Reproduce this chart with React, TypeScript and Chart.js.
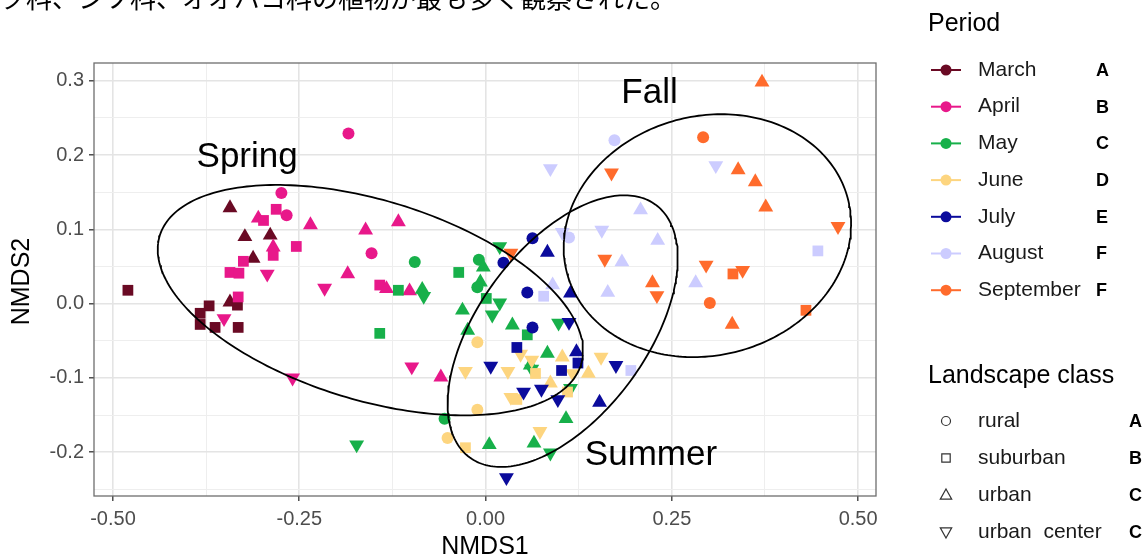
import React, { useEffect, useRef } from 'react';
import { Chart, registerables } from 'chart.js';

Chart.register(...registerables);

type Shape = 'o' | 's' | '^' | 'v';
type Pt = [number, number, Shape];

// ---------- data ----------
const months = ['March', 'April', 'May', 'June', 'July', 'August', 'September'];
const monthLetters = ['A', 'B', 'C', 'D', 'E', 'F', 'F'];
const monthColors = ['#6A0A24', '#E8188A', '#17B04A', '#FDD57F', '#0B0B9C', '#CCCCFF', '#FF6B2C'];

const marchPts: Pt[] = [
  [-0.480, 0.018, 's'], [-0.343, 0.129, '^'], [-0.323, 0.090, '^'], [-0.289, 0.092, '^'],
  [-0.312, 0.061, '^'], [-0.343, 0.002, '^'], [-0.333, -0.002, 's'], [-0.371, -0.003, 's'],
  [-0.383, -0.013, 's'], [-0.383, -0.028, 's'], [-0.363, -0.032, 's'], [-0.332, -0.032, 's'],
];
const aprilPts: Pt[] = [
  [-0.184, 0.229, 'o'], [-0.274, 0.149, 'o'], [-0.281, 0.127, 's'], [-0.267, 0.119, 'o'],
  [-0.305, 0.115, '^'], [-0.298, 0.112, 's'], [-0.235, 0.106, '^'], [-0.161, 0.099, '^'],
  [-0.117, 0.110, '^'], [-0.254, 0.077, 's'], [-0.285, 0.076, '^'], [-0.285, 0.065, 's'],
  [-0.153, 0.068, 'o'], [-0.325, 0.057, 's'], [-0.343, 0.042, 's'], [-0.331, 0.041, 's'],
  [-0.293, 0.040, 'v'], [-0.185, 0.040, '^'], [-0.216, 0.021, 'v'], [-0.142, 0.025, 's'],
  [-0.133, 0.020, '^'], [-0.102, 0.017, '^'], [-0.332, 0.009, 's'], [-0.351, -0.020, 'v'],
  [-0.259, -0.100, 'v'], [-0.099, -0.085, 'v'], [-0.060, -0.099, '^'],
];
const mayPts: Pt[] = [
  [0.019, 0.077, 'v'], [-0.095, 0.056, 'o'], [-0.009, 0.059, 'o'], [-0.003, 0.049, '^'],
  [-0.036, 0.042, 's'], [-0.007, 0.029, '^'], [-0.011, 0.022, 'o'], [-0.117, 0.018, 's'],
  [-0.085, 0.019, '^'], [-0.083, 0.010, 'v'], [0.001, 0.007, 's'], [0.019, 0.001, 'v'],
  [-0.031, -0.009, '^'], [0.009, -0.015, 'v'], [0.036, -0.029, '^'], [0.098, -0.026, 'v'],
  [-0.142, -0.040, 's'], [-0.024, -0.036, '^'], [0.056, -0.042, 's'], [0.083, -0.067, '^'],
  [0.060, -0.083, '^'], [0.062, -0.088, 'v'], [0.114, -0.114, 'v'], [-0.055, -0.155, 'o'],
  [0.108, -0.155, '^'], [0.005, -0.190, '^'], [0.065, -0.188, '^'], [0.087, -0.201, 'v'],
  [-0.173, -0.190, 'v'],
];
const junePts: Pt[] = [
  [-0.011, -0.052, 'o'], [-0.027, -0.091, 'v'], [0.030, -0.091, 'v'], [0.047, -0.068, 'v'],
  [0.062, -0.076, 'v'], [0.067, -0.094, 's'], [0.103, -0.072, '^'], [0.117, -0.094, 'v'],
  [0.138, -0.094, '^'], [0.155, -0.072, 'v'], [0.087, -0.107, '^'], [0.110, -0.119, 's'],
  [0.034, -0.126, 'v'], [0.042, -0.129, 's'], [-0.011, -0.143, 'o'], [-0.051, -0.181, 'o'],
  [-0.027, -0.194, 's'], [0.073, -0.172, 'v'],
];
const julyPts: Pt[] = [
  [0.063, 0.088, 'o'], [0.083, 0.069, '^'], [0.024, 0.055, 'o'], [0.056, 0.015, 'o'],
  [0.114, 0.014, '^'], [0.063, -0.032, 'o'], [0.112, -0.025, 'v'], [0.042, -0.059, 's'],
  [0.122, -0.065, '^'], [0.124, -0.080, 's'], [0.007, -0.084, 'v'], [0.102, -0.090, 's'],
  [0.051, -0.119, 'v'], [0.075, -0.115, 'v'], [0.097, -0.129, 'v'], [0.153, -0.133, '^'],
  [0.175, -0.083, 'v'], [0.028, -0.234, 'v'],
];
const augustPts: Pt[] = [
  [0.173, 0.220, 'o'], [0.087, 0.182, 'v'], [0.309, 0.186, 'v'], [0.208, 0.126, '^'],
  [0.156, 0.099, 'v'], [0.231, 0.085, '^'], [0.103, 0.096, 'v'], [0.112, 0.089, 'o'],
  [0.183, 0.056, '^'], [0.446, 0.071, 's'], [0.090, 0.025, '^'], [0.078, 0.010, 's'],
  [0.164, 0.015, '^'], [0.282, 0.028, '^'], [0.195, -0.090, 's'],
];
const septemberPts: Pt[] = [
  [0.371, 0.298, '^'], [0.292, 0.224, 'o'], [0.169, 0.176, 'v'], [0.339, 0.180, '^'],
  [0.362, 0.164, '^'], [0.376, 0.130, '^'], [0.473, 0.104, 'v'], [0.160, 0.060, 'v'],
  [0.224, 0.028, '^'], [0.230, 0.011, 'v'], [0.296, 0.052, 'v'], [0.332, 0.040, 's'],
  [0.345, 0.045, 'v'], [0.301, 0.001, 'o'], [0.331, -0.028, '^'], [0.430, -0.009, 's'],
  [0.034, 0.068, 'v'],
];
const monthPoints = [marchPts, aprilPts, mayPts, junePts, julyPts, augustPts, septemberPts];

const classes = ['rural', 'suburban', 'urban', 'urban  center'];
const classLetters = ['A', 'B', 'C', 'C'];
const classShapes: Shape[] = ['o', 's', '^', 'v'];

// season ellipses: centre, semi-axes (NMDS units), angle in degrees
const ellipseNames = ['Spring', 'Summer', 'Fall'];
const ellipseCx = [-0.1546, 0.1035, 0.2977];
const ellipseCy = [0.0047, -0.037, 0.0915];
const ellipseA = [0.2957, 0.211, 0.195];
const ellipseB = [0.1344, 0.113, 0.161];
const ellipseAngle = [-17.1, 53.8, 15.1];

// season labels
const seasonLabels = ['Spring', 'Fall', 'Summer'];
const seasonLabelX = [-0.320, 0.220, 0.222];
const seasonLabelY = [0.197, 0.283, -0.204];

const xMajorTicks = [-0.5, -0.25, 0, 0.25, 0.5];
const xMinorTicks = [-0.375, -0.125, 0.125, 0.375];
const yMajorTicks = [-0.2, -0.1, 0, 0.1, 0.2, 0.3];
const yMinorTicks = [-0.25, -0.15, -0.05, 0.05, 0.15, 0.25];
const xLimits = [-0.5255, 0.524];
const yLimits = [-0.259, 0.324];

const caption = 'ク科、シソ科、オオバコ科の植物が最も多く観察された。';

// ---------- helpers ----------
const isMajor = (v: number, majors: number[]) => majors.some((m) => Math.abs(m - v) < 1e-6);

function ellipsePoints(i: number) {
  const pts: { x: number; y: number }[] = [];
  const th = (ellipseAngle[i] * Math.PI) / 180;
  const n = 240;
  for (let k = 0; k <= n; k++) {
    const t = (2 * Math.PI * k) / n;
    const ex = ellipseA[i] * Math.cos(t);
    const ey = ellipseB[i] * Math.sin(t);
    pts.push({
      x: ellipseCx[i] + ex * Math.cos(th) - ey * Math.sin(th),
      y: ellipseCy[i] + ex * Math.sin(th) + ey * Math.cos(th),
    });
  }
  return pts;
}

const FONT = '"Liberation Sans", Arial, sans-serif';

function drawShape(ctx: CanvasRenderingContext2D, shape: Shape, x: number, y: number, s: number) {
  ctx.beginPath();
  if (shape === 'o') ctx.arc(x, y, s * 0.75, 0, Math.PI * 2);
  else if (shape === 's') ctx.rect(x - s * 0.7, y - s * 0.7, s * 1.4, s * 1.4);
  else if (shape === '^') {
    ctx.moveTo(x, y - s);
    ctx.lineTo(x + s * 0.95, y + s * 0.7);
    ctx.lineTo(x - s * 0.95, y + s * 0.7);
    ctx.closePath();
  } else {
    ctx.moveTo(x, y + s);
    ctx.lineTo(x + s * 0.95, y - s * 0.7);
    ctx.lineTo(x - s * 0.95, y - s * 0.7);
    ctx.closePath();
  }
  ctx.stroke();
}

const overlayPlugin = {
  id: 'overlay',
  afterDraw(chart: any) {
    const ctx: CanvasRenderingContext2D = chart.ctx;
    const { left, top, right, bottom } = chart.chartArea;
    const xs = chart.scales.x;
    const ys = chart.scales.y;
    ctx.save();
    // panel border
    ctx.strokeStyle = '#6e6e6e';
    ctx.lineWidth = 1.3;
    ctx.strokeRect(left, top, right - left, bottom - top);

    // season labels
    ctx.fillStyle = '#000';
    ctx.font = `35px ${FONT}`;
    ctx.textAlign = 'center';
    ctx.textBaseline = 'middle';
    seasonLabels.forEach((t, i) => {
      ctx.fillText(t, xs.getPixelForValue(seasonLabelX[i]), ys.getPixelForValue(seasonLabelY[i]));
    });

    // axis titles
    ctx.font = `25px ${FONT}`;
    ctx.fillText('NMDS1', (left + right) / 2, 547);
    ctx.save();
    ctx.translate(22, (top + bottom) / 2 + 2);
    ctx.rotate(-Math.PI / 2);
    ctx.fillText('NMDS2', 0, 0);
    ctx.restore();

    // caption (cut at top)
    ctx.textAlign = 'left';
    ctx.textBaseline = 'alphabetic';
    ctx.font = '26px "Noto Sans CJK JP", sans-serif';
    ctx.fillText(caption, 0, 8);

    // Period legend
    ctx.font = `25px ${FONT}`;
    ctx.textBaseline = 'middle';
    ctx.fillText('Period', 928, 24);
    months.forEach((m, i) => {
      const y = 70 + i * 36.7;
      ctx.strokeStyle = monthColors[i];
      ctx.fillStyle = monthColors[i];
      ctx.lineWidth = 2;
      ctx.beginPath();
      ctx.moveTo(931, y);
      ctx.lineTo(961, y);
      ctx.stroke();
      ctx.beginPath();
      ctx.arc(946, y, 5.5, 0, Math.PI * 2);
      ctx.fill();
      ctx.fillStyle = '#1a1a1a';
      ctx.font = `21px ${FONT}`;
      ctx.fillText(m, 978, y);
      ctx.font = `bold 18px ${FONT}`;
      ctx.fillStyle = '#000';
      ctx.fillText(monthLetters[i], 1096, y + 1);
    });

    // Landscape class legend
    ctx.fillStyle = '#000';
    ctx.font = `25px ${FONT}`;
    ctx.fillText('Landscape class', 928, 376);
    classes.forEach((c, i) => {
      const y = 421 + i * 37;
      ctx.strokeStyle = '#333';
      ctx.lineWidth = 1.2;
      drawShape(ctx, classShapes[i], 946, y, 6);
      ctx.fillStyle = '#1a1a1a';
      ctx.font = `21px ${FONT}`;
      ctx.fillText(c, 978, y);
      ctx.font = `bold 18px ${FONT}`;
      ctx.fillStyle = '#000';
      ctx.fillText(classLetters[i], 1129, y + 1);
    });
    ctx.restore();
  },
};

function styleFor(s: Shape) {
  if (s === 'o') return { style: 'circle', r: 6, rot: 0 };
  if (s === 's') return { style: 'rect', r: 7.6, rot: 0 };
  if (s === '^') return { style: 'triangle', r: 8.6, rot: 0 };
  return { style: 'triangle', r: 8.6, rot: 180 };
}

export default function App() {
  const ref = useRef<HTMLCanvasElement>(null);

  useEffect(() => {
    document.body.style.margin = '0';
    const pointSets = monthPoints.map((pts, i) => ({
      type: 'scatter' as const,
      label: months[i],
      data: pts.map((p) => ({ x: p[0], y: p[1] })),
      showLine: false,
      pointStyle: pts.map((p) => styleFor(p[2]).style),
      pointRadius: pts.map((p) => styleFor(p[2]).r),
      pointHoverRadius: pts.map((p) => styleFor(p[2]).r),
      pointRotation: pts.map((p) => styleFor(p[2]).rot),
      pointBackgroundColor: monthColors[i],
      pointBorderColor: monthColors[i],
      pointBorderWidth: 0,
      order: 10 - i,
    }));
    const ellipseSets = ellipseNames.map((n, i) => ({
      type: 'scatter' as const,
      label: n,
      data: ellipsePoints(i),
      showLine: true,
      pointRadius: 0,
      borderColor: '#000',
      borderWidth: 1.8,
      fill: false,
      tension: 0,
      order: 0,
    }));

    const chart = new Chart(ref.current as HTMLCanvasElement, {
      type: 'scatter',
      data: { datasets: [...pointSets, ...ellipseSets] as any },
      options: {
        animation: false,
        responsive: false,
        devicePixelRatio: 1,
        events: [],
        layout: { padding: { top: 63, right: 266, bottom: 0, left: 0 } },
        plugins: { legend: { display: false }, tooltip: { enabled: false } },
        scales: {
          x: {
            type: 'linear',
            min: xLimits[0],
            max: xLimits[1],
            afterBuildTicks: (s: any) => {
              s.ticks = [...xMajorTicks, ...xMinorTicks].sort((a, b) => a - b).map((v) => ({ value: v }));
            },
            afterFit: (s: any) => {
              s.height = 64;
              s.paddingLeft = 0;
              s.paddingRight = 0;
            },
            ticks: {
              autoSkip: false,
              maxRotation: 0,
              padding: 6,
              color: '#4D4D4D',
              font: { size: 20, family: FONT },
              callback: (v: any) => (isMajor(Number(v), xMajorTicks) ? Number(v).toFixed(2) : ''),
            },
            grid: {
              color: (c: any) => (c.tick && isMajor(c.tick.value, xMajorTicks) ? '#E4E4E4' : '#EEEEEE'),
              lineWidth: (c: any) => (c.tick && isMajor(c.tick.value, xMajorTicks) ? 1.6 : 1),
              tickLength: 5,
              tickWidth: 1.3,
              tickColor: (c: any) => (c.tick && isMajor(c.tick.value, xMajorTicks) ? '#333' : 'rgba(0,0,0,0)'),
            },
            border: { display: false },
          },
          y: {
            type: 'linear',
            min: yLimits[0],
            max: yLimits[1],
            afterBuildTicks: (s: any) => {
              s.ticks = [...yMajorTicks, ...yMinorTicks].sort((a, b) => a - b).map((v) => ({ value: v }));
            },
            afterFit: (s: any) => {
              s.width = 94;
              s.paddingTop = 0;
              s.paddingBottom = 0;
            },
            ticks: {
              autoSkip: false,
              padding: 5,
              color: '#4D4D4D',
              font: { size: 20, family: FONT },
              callback: (v: any) => (isMajor(Number(v), yMajorTicks) ? Number(v).toFixed(1) : ''),
            },
            grid: {
              color: (c: any) => (c.tick && isMajor(c.tick.value, yMajorTicks) ? '#E4E4E4' : '#EEEEEE'),
              lineWidth: (c: any) => (c.tick && isMajor(c.tick.value, yMajorTicks) ? 1.6 : 1),
              tickLength: 5,
              tickWidth: 1.3,
              tickColor: (c: any) => (c.tick && isMajor(c.tick.value, yMajorTicks) ? '#333' : 'rgba(0,0,0,0)'),
            },
            border: { display: false },
          },
        },
      },
      plugins: [overlayPlugin],
    } as any);
    return () => chart.destroy();
  }, []);

  return (
    <div style={{ width: 1142, height: 560, position: 'relative', background: '#fff' }}>
      <canvas ref={ref} width={1142} height={560} style={{ display: 'block', width: 1142, height: 560 }} />
    </div>
  );
}
